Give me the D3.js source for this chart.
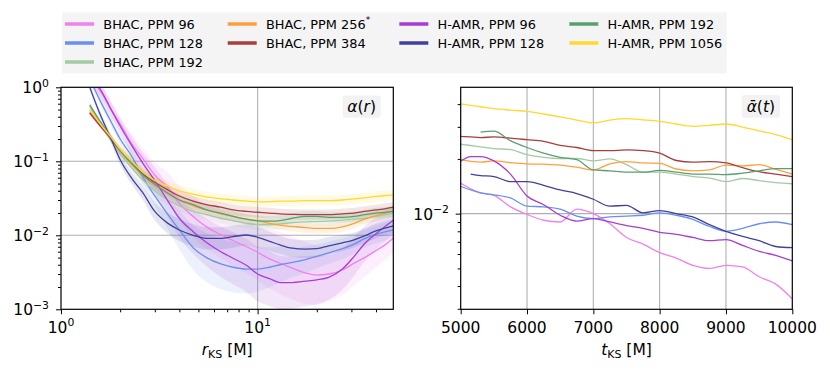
<!DOCTYPE html>
<html>
<head>
<meta charset="utf-8">
<script src="https://cdn.jsdelivr.net/npm/d3@7"></script>
<style>
  body { margin: 0; background: #fff; }
  svg { font-family: "DejaVu Sans", sans-serif; }
</style>
</head>
<body>
<script>
const width = 830;
const height = 373;

// ---- data ----
const labels = ['BHAC, PPM 96', 'BHAC, PPM 128', 'BHAC, PPM 192', 'BHAC, PPM 256', 'BHAC, PPM 384',
  'H-AMR, PPM 96', 'H-AMR, PPM 128', 'H-AMR, PPM 192', 'H-AMR, PPM 1056'];
const colors = ['#ee82ee', '#6a90ee', '#a3caa3', '#ffa040', '#a83e3e',
  '#a63ed4', '#40409e', '#5aa06e', '#ffd830'];

// alpha(r), radius in M
const rGrid = [1.4, 1.6, 1.8, 2.0, 2.3, 2.6, 3.0, 3.5, 4.0, 4.7, 5.5, 6.5, 7.5, 8.8, 10, 11.5, 13, 15, 17.5, 20, 23, 27, 31, 35, 40, 45, 49];
const bhac96R = [1.4, 0.85, 0.5, 0.32, 0.17, 0.11, 0.065, 0.044, 0.027, 0.018, 0.013, 0.0102, 0.0085, 0.0070, 0.0059, 0.0048, 0.0042, 0.0036, 0.0031, 0.0029, 0.0030, 0.0034, 0.0042, 0.0050, 0.0062, 0.0076, 0.0091];
const bhac128R = [1.3, 0.62, 0.34, 0.2, 0.115, 0.062, 0.034, 0.019, 0.0118, 0.0068, 0.0050, 0.0041, 0.0037, 0.0035, 0.0035, 0.0037, 0.0040, 0.0043, 0.0047, 0.0052, 0.0058, 0.0066, 0.0076, 0.0090, 0.0103, 0.0112, 0.0118];
const bhac192R = [0.55, 0.31, 0.19, 0.125, 0.08, 0.056, 0.040, 0.030, 0.025, 0.021, 0.019, 0.017, 0.0158, 0.0145, 0.014, 0.014, 0.0143, 0.0148, 0.0152, 0.0153, 0.0155, 0.016, 0.0165, 0.017, 0.018, 0.019, 0.020];
const bhac256R = [0.47, 0.30, 0.20, 0.135, 0.09, 0.065, 0.048, 0.037, 0.030, 0.025, 0.022, 0.0195, 0.018, 0.0165, 0.0157, 0.0145, 0.0137, 0.0132, 0.0127, 0.0124, 0.0124, 0.013, 0.0145, 0.0165, 0.0185, 0.020, 0.021];
const bhac384R = [0.45, 0.29, 0.2, 0.14, 0.095, 0.068, 0.052, 0.041, 0.034, 0.029, 0.026, 0.024, 0.022, 0.021, 0.0205, 0.020, 0.0195, 0.0192, 0.019, 0.019, 0.019, 0.0195, 0.020, 0.021, 0.022, 0.023, 0.024];
const hamr96R = [1.5, 0.9, 0.5, 0.3, 0.16, 0.095, 0.055, 0.029, 0.017, 0.0112, 0.0080, 0.0060, 0.0049, 0.0039, 0.0030, 0.0026, 0.0023, 0.0023, 0.0024, 0.0025, 0.0027, 0.0035, 0.0052, 0.0077, 0.0105, 0.0135, 0.0160];
const hamr128R = [1.0, 0.40, 0.20, 0.105, 0.058, 0.038, 0.021, 0.0145, 0.0118, 0.0100, 0.0091, 0.0091, 0.0096, 0.0101, 0.0094, 0.0083, 0.0074, 0.0067, 0.0065, 0.0066, 0.0072, 0.0079, 0.0087, 0.0098, 0.0115, 0.0126, 0.0134];
const hamr192R = [0.58, 0.33, 0.21, 0.14, 0.092, 0.066, 0.049, 0.037, 0.030, 0.026, 0.022, 0.020, 0.018, 0.0165, 0.0157, 0.0155, 0.0158, 0.017, 0.018, 0.018, 0.0175, 0.0175, 0.018, 0.019, 0.020, 0.0205, 0.021];
const hamr1056R = [0.50, 0.31, 0.21, 0.145, 0.098, 0.072, 0.055, 0.046, 0.040, 0.036, 0.033, 0.031, 0.030, 0.029, 0.0283, 0.0285, 0.029, 0.029, 0.0295, 0.0295, 0.0295, 0.030, 0.031, 0.032, 0.0335, 0.0345, 0.035];

// half-width of shaded bands (dex) on the same radius grid
const bhac96Spread = [0.1, 0.1, 0.1, 0.1, 0.12, 0.14, 0.17, 0.2, 0.24, 0.28, 0.3, 0.32, 0.34, 0.36, 0.38, 0.4, 0.42, 0.42, 0.42, 0.4, 0.37, 0.33, 0.3, 0.26, 0.22, 0.2, 0.18];
const bhac128Spread = [0.06, 0.06, 0.06, 0.07, 0.08, 0.1, 0.14, 0.2, 0.26, 0.3, 0.33, 0.34, 0.34, 0.33, 0.3, 0.27, 0.24, 0.2, 0.18, 0.16, 0.15, 0.14, 0.13, 0.12, 0.12, 0.12, 0.12];
const hamr96Spread = [0.1, 0.1, 0.1, 0.1, 0.12, 0.14, 0.18, 0.22, 0.26, 0.3, 0.32, 0.34, 0.35, 0.36, 0.37, 0.37, 0.36, 0.35, 0.34, 0.33, 0.3, 0.28, 0.26, 0.24, 0.22, 0.2, 0.18];
const hamr128Spread = [0.05, 0.05, 0.06, 0.07, 0.08, 0.1, 0.12, 0.14, 0.15, 0.15, 0.15, 0.15, 0.15, 0.14, 0.14, 0.13, 0.12, 0.12, 0.12, 0.12, 0.12, 0.11, 0.1, 0.1, 0.1, 0.1, 0.1];
const narrowSpread = [0.03, 0.03, 0.04, 0.05, 0.06, 0.06, 0.07, 0.07, 0.07, 0.07, 0.07, 0.07, 0.07, 0.07, 0.07, 0.07, 0.07, 0.07, 0.07, 0.07, 0.07, 0.07, 0.07, 0.07, 0.07, 0.07, 0.07];

// time-averaged alpha(t), time in M
const tGrid = [5000, 5150, 5300, 5500, 5750, 6000, 6250, 6500, 6750, 7000, 7250, 7500, 7750, 8000, 8250, 8500, 8750, 9000, 9250, 9500, 9750, 10000];
const bhac96T = [0.0147, 0.0137, 0.0130, 0.0126, 0.0109, 0.0099, 0.0092, 0.0090, 0.0106, 0.0100, 0.0088, 0.0074, 0.0068, 0.0061, 0.0057, 0.0052, 0.0050, 0.0052, 0.0051, 0.0045, 0.0041, 0.0034];
const bhac128T = [0.0141, 0.0135, 0.0130, 0.0127, 0.0122, 0.0110, 0.0109, 0.0106, 0.0097, 0.0094, 0.0096, 0.0097, 0.0098, 0.0101, 0.0098, 0.0093, 0.0085, 0.0080, 0.0083, 0.0088, 0.0090, 0.0087];
const bhac192T = [0.0241, 0.0237, 0.0233, 0.0228, 0.0225, 0.0211, 0.0204, 0.0201, 0.0201, 0.0195, 0.0200, 0.0186, 0.0169, 0.0169, 0.0165, 0.0160, 0.0157, 0.0150, 0.0156, 0.0152, 0.0148, 0.0146];
const bhac256T = [0.0198, 0.0194, 0.0192, 0.0195, 0.0191, 0.0188, 0.0187, 0.0185, 0.0180, 0.0174, 0.0188, 0.0193, 0.0190, 0.0189, 0.0176, 0.0172, 0.0174, 0.0185, 0.0183, 0.0186, 0.0175, 0.0165];
const bhac384T = [0.0266, 0.0264, 0.0262, 0.0264, 0.0260, 0.0255, 0.0250, 0.0237, 0.0231, 0.0222, 0.0222, 0.0224, 0.0222, 0.0215, 0.0196, 0.0192, 0.0193, 0.0190, 0.0179, 0.0170, 0.0165, 0.0160];
const hamr96T = [0.0194, 0.0206, 0.0206, 0.0195, 0.0165, 0.0125, 0.0112, 0.0098, 0.0091, 0.0094, 0.0090, 0.0086, 0.0083, 0.0079, 0.0077, 0.0074, 0.0071, 0.0072, 0.0067, 0.0062, 0.0059, 0.0055];
const hamr128T = [null, 0.0165, 0.0162, 0.0160, 0.0150, 0.0150, 0.0143, 0.0135, 0.0129, 0.0120, 0.0110, 0.0111, 0.0101, 0.0104, 0.0100, 0.0096, 0.0087, 0.0080, 0.0075, 0.0071, 0.0066, 0.0065];
const hamr192T = [null, null, 0.0281, 0.0284, 0.0252, 0.0231, 0.0215, 0.0204, 0.0198, 0.0174, 0.0172, 0.0169, 0.0169, 0.0173, 0.0169, 0.0165, 0.0165, 0.0164, 0.0167, 0.0172, 0.0177, 0.0177];
const hamr1056T = [0.0401, 0.0394, 0.0387, 0.0378, 0.0371, 0.0365, 0.0353, 0.0340, 0.0327, 0.0315, 0.0327, 0.0333, 0.0328, 0.0322, 0.0311, 0.0302, 0.0306, 0.0311, 0.0299, 0.0285, 0.0272, 0.0255];

// ticks
const leftXMajor = [1, 10];
const leftYMajor = [1e-3, 1e-2, 1e-1, 1];
const rightXTicks = [5000, 6000, 7000, 8000, 9000, 10000];
const rightYMajor = [0.01];
const rightYMinor = [0.003, 0.004, 0.005, 0.006, 0.007, 0.008, 0.009, 0.02, 0.03, 0.04];

const radial = [bhac96R, bhac128R, bhac192R, bhac256R, bhac384R, hamr96R, hamr128R, hamr192R, hamr1056R];
const spreads = [bhac96Spread, bhac128Spread, narrowSpread, narrowSpread, narrowSpread, hamr96Spread, hamr128Spread, narrowSpread, narrowSpread];
const timeAvg = [bhac96T, bhac128T, bhac192T, bhac256T, bhac384T, hamr96T, hamr128T, hamr192T, hamr1056T];

const series = labels.map(function (name, i) {
  return {
    name: name,
    color: colors[i],
    radial: rGrid.map(function (r, j) {
      const v = radial[i][j], s = Math.pow(10, spreads[i][j]);
      return { r: r, v: v, lo: v / s, hi: v * s };
    }),
    time: tGrid.map(function (t, j) { return { t: t, v: timeAvg[i][j] }; })
  };
});

// ---- layout ----
const left = { x0: 61, x1: 393.3, y0: 87.3, y1: 309.3 };
const right = { x0: 460.7, x1: 792.3, y0: 87.3, y1: 309.3 };
const tickFont = 15.5;

const svg = d3.select('body')
  .append('svg')
  .attr('width', width)
  .attr('height', height);

const xL = d3.scaleLog().domain([1, 49]).range([left.x0, left.x1]);
const yL = d3.scaleLog().domain([1e-3, 1]).range([left.y1, left.y0]);
const xR = d3.scaleLinear().domain([5000, 10000]).range([right.x0, right.x1]);
const yR = d3.scaleLog().domain([0.00298, 0.0495]).range([right.y1, right.y0]);

const defs = svg.append('defs');
[['clipL', left], ['clipR', right]].forEach(function (c) {
  defs.append('clipPath').attr('id', c[0])
    .append('rect')
    .attr('x', c[1].x0).attr('y', c[1].y0)
    .attr('width', c[1].x1 - c[1].x0).attr('height', c[1].y1 - c[1].y0);
});

function minorLog(lo, hi) {
  const out = [];
  for (let d = lo; d < hi; d *= 10) {
    for (let k = 2; k <= 9; k++) out.push(d * k);
  }
  return out;
}

// mathtext-like 10^n label
function powLabel(sel, exp) {
  sel.append('tspan').text('10');
  sel.append('tspan')
    .attr('font-size', tickFont * 0.7)
    .attr('dy', -tickFont * 0.42)
    .text(exp);
}

// ---- grids ----
const gridColor = '#b0b0b0';
svg.append('g').selectAll('line')
  .data([10])
  .enter().append('line')
  .attr('x1', d => xL(d)).attr('x2', d => xL(d))
  .attr('y1', left.y0).attr('y2', left.y1)
  .attr('stroke', gridColor).attr('stroke-width', 1.1);
svg.append('g').selectAll('line')
  .data([0.1, 0.01])
  .enter().append('line')
  .attr('x1', left.x0).attr('x2', left.x1)
  .attr('y1', d => yL(d)).attr('y2', d => yL(d))
  .attr('stroke', gridColor).attr('stroke-width', 1.1);
svg.append('g').selectAll('line')
  .data(rightXTicks.slice(1, -1))
  .enter().append('line')
  .attr('x1', d => xR(d)).attr('x2', d => xR(d))
  .attr('y1', right.y0).attr('y2', right.y1)
  .attr('stroke', gridColor).attr('stroke-width', 1.1);
svg.append('g').selectAll('line')
  .data(rightYMajor)
  .enter().append('line')
  .attr('x1', right.x0).attr('x2', right.x1)
  .attr('y1', d => yR(d)).attr('y2', d => yR(d))
  .attr('stroke', gridColor).attr('stroke-width', 1.1);

// ---- left panel: bands then lines ----
const gL = svg.append('g').attr('clip-path', 'url(#clipL)');
const band = d3.area()
  .x(d => xL(d.r))
  .y0(d => yL(d.lo))
  .y1(d => yL(d.hi))
  .curve(d3.curveMonotoneX);
const lineL = d3.line()
  .x(d => xL(d.r))
  .y(d => yL(d.v))
  .curve(d3.curveMonotoneX);

gL.selectAll('path.band')
  .data(series)
  .enter().append('path')
  .attr('class', 'band')
  .attr('d', d => band(d.radial))
  .attr('fill', d => d.color)
  .attr('fill-opacity', 0.13)
  .attr('stroke', 'none');

gL.selectAll('path.line')
  .data(series)
  .enter().append('path')
  .attr('class', 'line')
  .attr('d', d => lineL(d.radial))
  .attr('fill', 'none')
  .attr('stroke', d => d.color)
  .attr('stroke-width', 1.3);

// ---- right panel ----
const gR = svg.append('g').attr('clip-path', 'url(#clipR)');
const lineR = d3.line()
  .defined(d => d.v !== null)
  .x(d => xR(d.t))
  .y(d => yR(d.v))
  .curve(d3.curveMonotoneX);

gR.selectAll('path')
  .data(series)
  .enter().append('path')
  .attr('d', d => lineR(d.time))
  .attr('fill', 'none')
  .attr('stroke', d => d.color)
  .attr('stroke-width', 1.3);

// ---- axes ----
function styleAxis(g) {
  g.select('.domain').remove();
  g.selectAll('.tick line').attr('stroke', '#000').attr('stroke-width', 1);
  g.selectAll('.tick text').remove();
}

svg.append('g')
  .attr('transform', `translate(0, ${left.y1})`)
  .call(d3.axisBottom(xL).tickValues(leftXMajor).tickSize(5).tickFormat(''))
  .call(styleAxis);
svg.append('g')
  .attr('transform', `translate(0, ${left.y1})`)
  .call(d3.axisBottom(xL).tickValues(minorLog(1, 49).filter(v => v < 49)).tickSize(3).tickFormat(''))
  .call(styleAxis);
svg.append('g')
  .attr('transform', `translate(${left.x0}, 0)`)
  .call(d3.axisLeft(yL).tickValues(leftYMajor).tickSize(5).tickFormat(''))
  .call(styleAxis);
svg.append('g')
  .attr('transform', `translate(${left.x0}, 0)`)
  .call(d3.axisLeft(yL).tickValues(minorLog(1e-3, 1)).tickSize(3).tickFormat(''))
  .call(styleAxis);

svg.append('g')
  .attr('transform', `translate(0, ${right.y1})`)
  .call(d3.axisBottom(xR).tickValues(rightXTicks).tickSize(5).tickFormat(''))
  .call(styleAxis);
svg.append('g')
  .attr('transform', `translate(${right.x0}, 0)`)
  .call(d3.axisLeft(yR).tickValues(rightYMajor).tickSize(5).tickFormat(''))
  .call(styleAxis);
svg.append('g')
  .attr('transform', `translate(${right.x0}, 0)`)
  .call(d3.axisLeft(yR).tickValues(rightYMinor).tickSize(3).tickFormat(''))
  .call(styleAxis);

// spines
[left, right].forEach(function (p) {
  svg.append('rect')
    .attr('x', p.x0).attr('y', p.y0)
    .attr('width', p.x1 - p.x0).attr('height', p.y1 - p.y0)
    .attr('fill', 'none').attr('stroke', '#000').attr('stroke-width', 1.2);
});

// tick labels
svg.append('g').selectAll('text')
  .data(leftXMajor)
  .enter().append('text')
  .attr('x', d => xL(d))
  .attr('y', 333)
  .attr('text-anchor', 'middle')
  .attr('font-size', tickFont)
  .each(function (d) { powLabel(d3.select(this), String(Math.round(Math.log10(d)))); });

svg.append('g').selectAll('text')
  .data(leftYMajor)
  .enter().append('text')
  .attr('x', 49)
  .attr('y', d => yL(d) + 6)
  .attr('text-anchor', 'end')
  .attr('font-size', tickFont)
  .each(function (d) {
    const e = Math.round(Math.log10(d));
    powLabel(d3.select(this), e < 0 ? '\u2212' + (-e) : String(e));
  });

svg.append('g').selectAll('text')
  .data(rightXTicks)
  .enter().append('text')
  .attr('x', d => xR(d))
  .attr('y', 333)
  .attr('text-anchor', 'middle')
  .attr('font-size', tickFont)
  .text(d => d);

svg.append('g').selectAll('text')
  .data(rightYMajor)
  .enter().append('text')
  .attr('x', 449)
  .attr('y', d => yR(d) + 6)
  .attr('text-anchor', 'end')
  .attr('font-size', tickFont)
  .each(function (d) { powLabel(d3.select(this), '\u2212' + (-Math.round(Math.log10(d)))); });

// axis labels
function axisLabel(x, sym) {
  const t = svg.append('text')
    .attr('x', x).attr('y', 355)
    .attr('text-anchor', 'middle')
    .attr('font-size', tickFont);
  t.append('tspan').attr('font-style', 'italic').text(sym);
  t.append('tspan').attr('font-size', 11).attr('dy', 3).text('KS');
  t.append('tspan').attr('dy', -3).text(' [M]');
}
axisLabel((left.x0 + left.x1) / 2, 'r');
axisLabel((right.x0 + right.x1) / 2, 't');

// panel tags
function tag(x0, x1, y0, y1, sym, arg) {
  svg.append('rect')
    .attr('x', x0).attr('y', y0)
    .attr('width', x1 - x0).attr('height', y1 - y0)
    .attr('rx', 3)
    .attr('fill', '#f2f2f2');
  const t = svg.append('text')
    .attr('x', (x0 + x1) / 2).attr('y', y1 - 5.5)
    .attr('text-anchor', 'middle')
    .attr('font-size', tickFont)
    .attr('font-style', 'italic');
  t.append('tspan').text(sym);
  t.append('tspan').attr('font-style', 'normal').text('(');
  t.append('tspan').text(arg);
  t.append('tspan').attr('font-style', 'normal').text(')');
}
tag(342.7, 380.7, 95.5, 117.7, '\u03b1', 'r');
tag(741.7, 780, 95, 117.7, '\u1fb1', 't');

// ---- legend ----
svg.append('rect')
  .attr('x', 62.3).attr('y', 12.3)
  .attr('width', 726.7 - 62.3).attr('height', 73.3 - 12.3)
  .attr('fill', '#f4f4f4');

const colX = [65, 227.7, 399.3, 569.3];
const rowY = [24, 43, 62];
const legendSlots = [[0, 0], [0, 1], [0, 2], [1, 0], [1, 1], [2, 0], [2, 1], [3, 0], [3, 1]];

const leg = svg.append('g').selectAll('g')
  .data(series)
  .enter().append('g')
  .attr('transform', (d, i) => `translate(${colX[legendSlots[i][0]]}, ${rowY[legendSlots[i][1]]})`);
leg.append('line')
  .attr('x1', 0).attr('x2', 29)
  .attr('stroke', d => d.color)
  .attr('stroke-width', 3.5);
leg.append('text')
  .attr('x', 38.3).attr('y', 4.7)
  .attr('font-size', 12.9)
  .each(function (d, i) {
    const t = d3.select(this);
    t.append('tspan').text(d.name);
    if (i === 3) t.append('tspan').attr('font-size', 9).attr('dy', -6).text('*');
  });
</script>
</body>
</html>
